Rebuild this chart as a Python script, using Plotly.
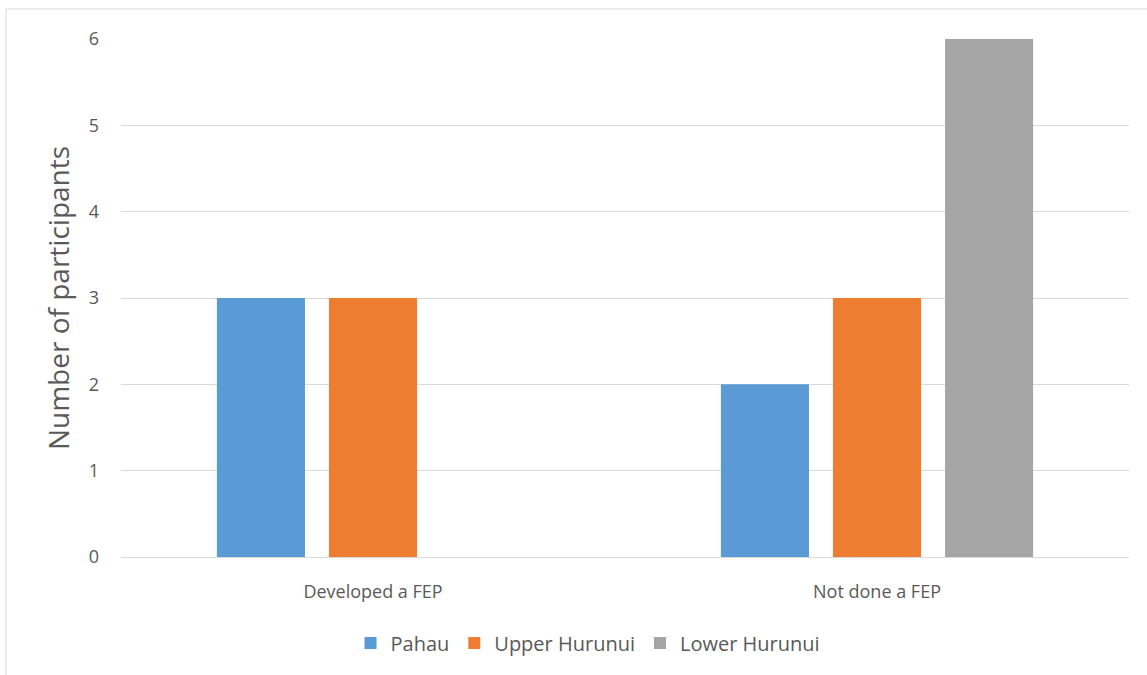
import plotly.graph_objects as go

categories = ["Developed a FEP", "Not done a FEP"]
series_names = ["Pahau", "Upper Hurunui", "Lower Hurunui"]
pahau = [3, 2]
upper_hurunui = [3, 3]
lower_hurunui = [0, 6]
colors = ["#5B9BD5", "#ED7D31", "#A5A5A5"]
y_ticks = [0, 1, 2, 3, 4, 5, 6]

FONT = "Open Sans"
TXT = "#595959"

fig = go.Figure()
for name, vals, col in zip(series_names, [pahau, upper_hurunui, lower_hurunui], colors):
    fig.add_trace(go.Bar(name=name, x=categories, y=vals, marker=dict(color=col, line=dict(width=0))))

L, R, T, B = 121, 18, 39, 118
W, H = 1147, 675
pw = W - L - R
ph = H - T - B

fig.update_layout(
    width=W, height=H,
    margin=dict(l=L, r=R, t=T, b=B),
    paper_bgcolor="white", plot_bgcolor="white",
    barmode="group", bargap=0.333, bargroupgap=0.214,
    font=dict(family=FONT, color=TXT, size=18),
    showlegend=True,
    legend=dict(orientation="h", x=(588 - L) / pw, xanchor="center",
                y=(557 - 643) / ph, yanchor="middle",
                font=dict(family=FONT, size=20, color=TXT),
                itemwidth=30, traceorder="normal"),
    xaxis=dict(showgrid=False, showline=True, linecolor="#D9D9D9", linewidth=1,
               ticks="", tickfont=dict(family=FONT, size=18, color=TXT),
               ticklabelstandoff=18),
    yaxis=dict(range=[0, 6], tickvals=y_ticks, showgrid=True, gridcolor="#D9D9D9",
               gridwidth=1, zeroline=False, showline=False, ticks="",
               tickfont=dict(family=FONT, size=18, color=TXT),
               ticklabelstandoff=21,
               title=dict(text="Number of participants",
                          font=dict(family=FONT, size=28, color=TXT), standoff=10)),
)

# chart area border
fig.add_shape(type="rect", xref="paper", yref="paper",
              x0=(6 - L) / pw, x1=(1152 - L) / pw,
              y0=(557 - 690) / ph, y1=(557 - 9) / ph,
              line=dict(color="#D9D9D9", width=1), fillcolor="rgba(0,0,0,0)", layer="below")

fig.write_html("out.html", config={"displayModeBar": False},
               post_script="document.body.style.margin='0';document.body.style.overflow='hidden';")
